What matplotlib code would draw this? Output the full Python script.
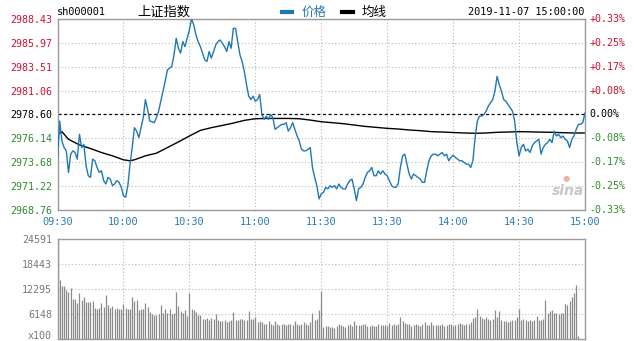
import matplotlib
matplotlib.use("Agg")
import matplotlib.pyplot as plt
from matplotlib.transforms import blended_transform_factory

# ---------------- data ----------------
title = "上证指数"
code = "sh000001"
stamp = "2019-11-07 15:00:00"
prev_close = 2978.60

price = [
    2974.00, 2977.92, 2975.87, 2975.19, 2974.85, 2972.63, 2974.51, 2974.85, 2974.68, 2974.00,
    2976.55, 2975.19, 2975.53, 2973.31, 2972.29, 2972.12, 2974.00, 2973.83, 2973.14, 2972.63,
    2972.80, 2971.78, 2971.44, 2972.12, 2971.95, 2971.27, 2971.44, 2971.78, 2971.61, 2971.10,
    2970.25, 2970.07, 2971.27, 2973.48, 2975.19, 2977.24, 2976.89, 2976.21, 2977.24, 2978.26,
    2980.13, 2979.11, 2977.92, 2977.85, 2977.75, 2978.26, 2978.94, 2979.96, 2980.99, 2982.01,
    2983.20, 2983.37, 2983.54, 2984.74, 2986.44, 2985.42, 2984.91, 2986.10, 2985.59, 2986.44,
    2987.30, 2988.43, 2987.81, 2986.78, 2986.10, 2985.59, 2984.91, 2984.23, 2984.06, 2985.08,
    2984.40, 2985.08, 2985.76, 2986.10, 2986.27, 2985.93, 2985.59, 2985.08, 2986.10, 2985.42,
    2987.47, 2987.47, 2986.10, 2984.74, 2984.06, 2983.03, 2981.67, 2980.48, 2980.13, 2980.48,
    2979.96, 2980.13, 2980.65, 2978.60, 2978.09, 2978.43, 2978.09, 2978.60, 2978.26, 2977.07,
    2977.24, 2977.41, 2977.58, 2977.58, 2977.75, 2976.89, 2977.24, 2977.75, 2977.07, 2976.38,
    2975.87, 2975.02, 2974.85, 2974.85, 2975.02, 2975.19, 2973.14, 2972.12, 2971.27, 2969.90,
    2970.42, 2970.59, 2971.10, 2970.93, 2971.27, 2971.10, 2971.27, 2970.93, 2971.44, 2971.10,
    2970.93, 2970.93, 2971.44, 2971.78, 2971.95, 2970.93, 2969.73, 2970.93, 2971.10, 2971.44,
    2972.12, 2972.63, 2972.80, 2973.14, 2972.29, 2972.29, 2972.80, 2972.46, 2972.80, 2972.46,
    2972.29, 2971.78, 2971.27, 2971.10, 2971.10, 2971.44, 2973.14, 2974.34, 2974.51, 2973.48,
    2972.46, 2971.95, 2972.46, 2972.29, 2972.12, 2971.95, 2971.61, 2971.61, 2972.80, 2973.83,
    2974.34, 2974.51, 2974.51, 2974.34, 2974.51, 2974.68, 2974.34, 2974.51, 2973.83, 2974.17,
    2974.40, 2974.17, 2974.00, 2973.83, 2973.83, 2973.66, 2973.48, 2973.48, 2973.14, 2973.83,
    2976.21, 2977.92, 2978.43, 2978.43, 2978.60, 2978.94, 2979.45, 2979.79, 2980.13, 2980.99,
    2982.52, 2981.67, 2980.99, 2980.13, 2979.96, 2979.62, 2979.28, 2978.94, 2977.92, 2975.70,
    2974.34, 2975.19, 2975.53, 2974.85, 2975.02, 2974.68, 2975.36, 2975.70, 2975.87, 2976.04,
    2974.51, 2975.19, 2975.53, 2975.70, 2976.04, 2975.70, 2976.89, 2976.38, 2976.55, 2976.21,
    2976.38, 2976.04, 2975.87, 2975.19, 2976.04, 2976.38, 2977.07, 2977.58, 2977.58, 2977.75,
    2978.77,
]

avg_minute = [0, 2, 5, 10, 15, 20, 25, 30, 33, 35, 40, 45, 50, 55, 60, 65, 70, 75, 80, 85,
              90, 95, 100, 105, 110, 115, 120, 125, 130, 135, 140, 145, 150, 155, 160, 165,
              170, 175, 180, 185, 190, 195, 200, 205, 210, 215, 220, 225, 230, 235, 240]
avg_price = [2976.55, 2976.83, 2976.04, 2975.46, 2975.09, 2974.68, 2974.34, 2973.93, 2973.83,
             2973.93, 2974.34, 2974.61, 2975.19, 2975.77, 2976.38, 2976.96, 2977.24, 2977.47,
             2977.71, 2977.99, 2978.16, 2978.19, 2978.19, 2978.19, 2978.16, 2978.02, 2977.85,
             2977.75, 2977.65, 2977.51, 2977.37, 2977.27, 2977.17, 2977.10, 2977.00, 2976.93,
             2976.83, 2976.79, 2976.74, 2976.69, 2976.66, 2976.69, 2976.76, 2976.79, 2976.83,
             2976.81, 2976.78, 2976.76, 2976.72, 2976.69, 2976.69]

volume = [
    24591, 14500, 13000, 13100, 12000, 11500, 12500, 9800, 9900, 8900,
    11200, 9600, 10250, 9000, 9200, 9000, 9400, 7600, 7500, 7700,
    8800, 7900, 10800, 8300, 7600, 8100, 7500, 7600, 7400, 7500,
    8600, 7600, 7400, 7500, 10250, 9400, 9500, 7100, 7500, 7300,
    8900, 7800, 6700, 6100, 5900, 6000, 6100, 8400, 6300, 7500,
    6300, 7500, 6200, 6400, 11600, 8000, 7000, 6300, 7100, 5700,
    11400, 7500, 7100, 6700, 5900, 5900, 5000, 4800, 5100, 4700,
    5200, 4900, 6150, 4700, 4500, 4400, 4600, 4300, 4500, 4700,
    6700, 4600, 4700, 4800, 4900, 4700, 4600, 7000, 4800, 4900,
    5300, 4300, 4500, 4200, 3600, 3800, 4500, 3600, 3500, 4400,
    3700, 3500, 3800, 3600, 3400, 3600, 3700, 3500, 4400, 3600,
    3500, 3600, 4100, 3800, 3500, 4300, 6300, 4700, 4900, 7100,
    11900, 3000, 3100, 3200, 3000, 2900, 2800, 3100, 3700, 3400,
    3200, 3000, 3500, 3600, 3300, 4400, 3500, 3500, 3500, 3600,
    3700, 3300, 3200, 3400, 3200, 3300, 3800, 3400, 3500, 3500,
    3300, 4000, 3500, 3600, 3400, 3700, 5500, 4500, 3900, 3800,
    3700, 3200, 3500, 3600, 3400, 3300, 3800, 4200, 3500, 3400,
    4300, 3500, 3400, 3400, 3500, 3600, 3200, 3400, 3600, 3700,
    3300, 3500, 3600, 3900, 3700, 3400, 3600, 3800, 4300, 5200,
    5500, 7500, 5700, 5200, 5000, 5300, 4800, 4700, 5000, 7100,
    5400, 7000, 4700, 4500, 4400, 4300, 4400, 4600, 4600, 5500,
    7300, 4700, 4800, 4700, 4400, 4600, 4500, 4600, 5600, 4700,
    4700, 5000, 9600, 6300, 6800, 7100, 6300, 6400, 6200, 6300,
    6400, 8600, 8400, 9400, 10250, 11200, 13300, 700, 0, 0,
    0,
]

price_ticks = [2968.76, 2971.22, 2973.68, 2976.14, 2978.60, 2981.06, 2983.51, 2985.97, 2988.43]
pct_labels = ["-0.33%", "-0.25%", "-0.17%", "-0.08%", "0.00%", "+0.08%", "+0.17%", "+0.25%", "+0.33%"]
time_pos = [0, 30, 60, 90, 120, 150, 180, 210, 240]
time_labels = ["09:30", "10:00", "10:30", "11:00", "11:30", "13:30", "14:00", "14:30", "15:00"]
vol_ticks = [0, 6148, 12295, 18443, 24591]
vol_labels = ["x100", "6148", "12295", "18443", "24591"]

# ---------------- style ----------------
RED = "#cc1030"
GREEN = "#2f8a2f"
BLUE = "#1f78b4"
TBLUE = "#2a7cb0"
GRID = "#b8b8b8"
FRAME = "#9a9a9a"
MONO = "DejaVu Sans Mono"
CJK = ["Noto Sans CJK SC", "DejaVu Sans"]

W, H = 634, 341
fig = plt.figure(figsize=(W / 100, H / 100), dpi=100)
fig.patch.set_facecolor("white")

def rect(x0, y0, x1, y1):
    return [x0 / W, 1 - y1 / H, (x1 - x0) / W, (y1 - y0) / H]

ax = fig.add_axes(rect(57.5, 19, 585, 210))
axv = fig.add_axes(rect(57.5, 239, 585, 339))

n = len(price)
x = list(range(n))

# price panel
ax.set_xlim(0, 240)
ax.set_ylim(price_ticks[0], price_ticks[-1])
for v in price_ticks[1:-1]:
    if v == prev_close:
        ax.axhline(v, color="black", lw=0.9, ls=(0, (2.5, 2)), zorder=1)
    else:
        ax.axhline(v, color=GRID, lw=0.8, ls=(0, (1, 2)), zorder=1)
for t in time_pos[1:-1]:
    ax.axvline(t, color=GRID, lw=0.8, ls=(0, (1, 2)), zorder=1)
ax.plot(x, price, color=BLUE, lw=1.0, zorder=3)
ax.plot(avg_minute, avg_price, color="black", lw=1.0, zorder=2)

ax.set_yticks(price_ticks)
ax.set_yticklabels([f"{v:.2f}" for v in price_ticks], fontfamily=MONO, fontsize=7.2)
for lab, v in zip(ax.get_yticklabels(), price_ticks):
    lab.set_color("black" if v == prev_close else (RED if v > prev_close else GREEN))
ax.set_xticks(time_pos)
ax.set_xticklabels(time_labels, fontfamily=MONO, fontsize=7.4, color=TBLUE)
ax.tick_params(length=0, pad=4)
ax.tick_params(axis="x", pad=5)

tr = blended_transform_factory(ax.transAxes, ax.transData)
for v, lab in zip(price_ticks, pct_labels):
    c = "black" if v == prev_close else (RED if v > prev_close else GREEN)
    ax.text(1.008, v, lab, transform=tr, ha="left", va="center",
            fontfamily=MONO, fontsize=7.2, color=c)

for s in ax.spines.values():
    s.set_color(FRAME)
    s.set_linewidth(1.0)

# volume panel
axv.set_xlim(0, 240)
axv.set_ylim(0, vol_ticks[-1])
for v in vol_ticks[1:-1]:
    axv.axhline(v, color=GRID, lw=0.8, ls=(0, (1, 2)), zorder=1)
for t in time_pos[1:-1]:
    axv.axvline(t, color=GRID, lw=0.8, ls=(0, (1, 2)), zorder=1)
axv.vlines(x, 0, volume, color="#8a8a8a", lw=0.9, zorder=2)
axv.set_yticks(vol_ticks)
axv.set_yticklabels(vol_labels, fontfamily=MONO, fontsize=7.2, color="#777777")
axv.get_yticklabels()[0].set_va("baseline")
axv.set_xticks([])
axv.tick_params(length=0, pad=4)
for s in axv.spines.values():
    s.set_color(FRAME)
    s.set_linewidth(1.0)

# header
fig.text(57 / W, 1 - 12 / H, code, fontfamily=MONO, fontsize=7.4, ha="left", va="center")
fig.text(164 / W, 1 - 12 / H, title, fontfamily=CJK, fontsize=9.5, ha="center", va="center")
fig.add_artist(plt.Line2D([282 / W, 292 / W], [1 - 12 / H, 1 - 12 / H], color=BLUE, lw=3))
fig.text(302 / W, 1 - 12 / H, "价格", fontfamily=CJK, fontsize=9, color=TBLUE, ha="left", va="center")
fig.add_artist(plt.Line2D([342 / W, 353 / W], [1 - 12 / H, 1 - 12 / H], color="black", lw=3))
fig.text(362 / W, 1 - 12 / H, "均线", fontfamily=CJK, fontsize=9, color="black", ha="left", va="center")
fig.text(584 / W, 1 - 12 / H, stamp, fontfamily=MONO, fontsize=7.4, ha="right", va="center")

# watermark
fig.text(568 / W, 1 - 191 / H, "sina", fontfamily="DejaVu Sans", fontsize=10, fontstyle="italic",
         fontweight="bold", color="#c8c8c8", ha="center", va="center")
fig.text(566 / W, 1 - 179 / H, "●", fontsize=6, color="#f0b0b0", ha="center", va="center")

fig.savefig("out.png", dpi=100, facecolor="white")
